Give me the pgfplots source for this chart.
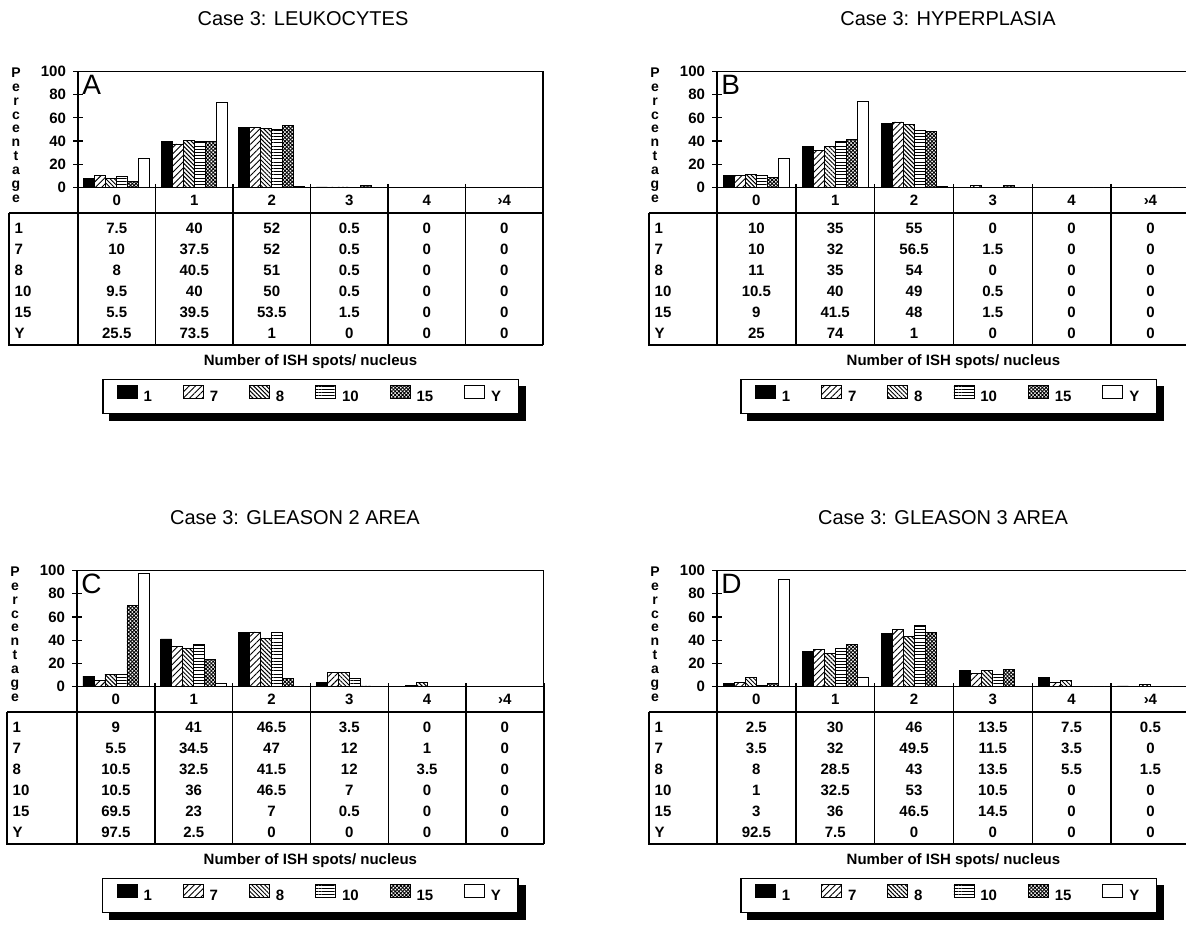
\documentclass[border=0pt]{standalone}
\usepackage{pgfplots}
\pgfplotsset{compat=1.18}
\usepackage{pgfplotstable}
\usepackage{fontspec}
\setmainfont{Liberation Sans}
\usetikzlibrary{patterns,patterns.meta,backgrounds}

\newcommand\tf{\bfseries\fontsize{7.5}{9}\selectfont}

\pgfplotsset{swatch/.style={legend image code/.code={\draw[##1,line width=0.4pt] (0pt,-0.6pt) rectangle (10pt,5.9pt);}}}

\pgfplotstableread{
x s1 s7 s8 s10 s15 sY
0 7.5 10 8 9.5 5.5 25.5
1 40 37.5 40.5 40 39.5 73.5
2 52 52 51 50 53.5 1
3 0.5 0.5 0.5 0.5 1.5 0
4 0 0 0 0 0 0
5 0 0 0 0 0 0
}\dataA
\pgfplotstableread{
x s1 s7 s8 s10 s15 sY
0 10 10 11 10.5 9 25
1 35 32 35 40 41.5 74
2 55 56.5 54 49 48 1
3 0 1.5 0 0.5 1.5 0
4 0 0 0 0 0 0
5 0 0 0 0 0 0
}\dataB
\pgfplotstableread{
x s1 s7 s8 s10 s15 sY
0 9 5.5 10.5 10.5 69.5 97.5
1 41 34.5 32.5 36 23 2.5
2 46.5 47 41.5 46.5 7 0
3 3.5 12 12 7 0.5 0
4 0 1 3.5 0 0 0
5 0 0 0 0 0 0
}\dataC
\pgfplotstableread{
x s1 s7 s8 s10 s15 sY
0 2.5 3.5 8 1 3 92.5
1 30 32 28.5 32.5 36 7.5
2 46 49.5 43 53 46.5 0
3 13.5 11.5 13.5 10.5 14.5 0
4 7.5 3.5 5.5 0 0 0
5 0.5 0 1.5 0 0 0
}\dataD

% #1 axis left px, #2 column width px, #3 vertical offset px, #4 title, #5 title x px,
% #6 letter, #7 table, #8 legend rel x, #9 table left px
\newcommand{\panel}[9]{%
\pgfmathsetmacro{\axL}{#1*0.5}%
\pgfmathsetmacro{\axT}{-(71.5+#3)*0.5}%
\pgfmathsetmacro{\axW}{6*#2*0.5}%
\begin{axis}[
  at={(\axL pt,\axT pt)}, anchor=north west,
  scale only axis, width=\axW pt, height=58pt,
  xmin=-0.5, xmax=5.5, ymin=0, ymax=100,
  ybar=0pt, bar width=5.5pt,
  xtick=\empty,
  ytick={0,20,40,60,80,100}, ytick pos=left, ytick align=center,
  major tick length=5pt,
  every tick/.style={black, line width=0.6pt},
  axis line style={line width=0.6pt},
  /pgf/number format/assume math mode=true,
  yticklabel style={font=\tf},
  clip=false,
  swatch,
  legend columns=6,
  legend style={name=leg#6, at={(#8,-1.8)}, anchor=center, draw=black, line width=0.6pt, fill=white,
    inner xsep=7pt, inner ysep=3pt, font=\tf,
    /tikz/every odd column/.append style={column sep=1.5pt},
    /tikz/every even column/.append style={column sep=14pt},
    nodes={inner sep=1.5pt}},
]
\addplot[draw=black, line width=0.4pt, fill=black] table[x=x,y=s1]{#7};
\addlegendentry{1}
\addplot[draw=black, line width=0.4pt, pattern={Lines[angle=45,distance=2.2pt,line width=0.45pt]}] table[x=x,y=s7]{#7};
\addlegendentry{7}
\addplot[draw=black, line width=0.4pt, pattern={Lines[angle=-45,distance=1.5pt,line width=0.5pt]}] table[x=x,y=s8]{#7};
\addlegendentry{8}
\addplot[draw=black, line width=0.4pt, pattern={Lines[angle=0,distance=1.6pt,line width=0.45pt]}] table[x=x,y=s10]{#7};
\addlegendentry{10}
\addplot[draw=black, line width=0.4pt, pattern={Hatch[angle=45,distance=1.3pt,line width=0.45pt]}] table[x=x,y=s15]{#7};
\addlegendentry{15}
\addplot[draw=black, line width=0.4pt, fill=white] table[x=x,y=sY]{#7};
\addlegendentry{Y}
\node[anchor=north west, inner sep=0pt, xshift=2pt, yshift=-1.5pt, font=\fontsize{14}{14}\selectfont] at (rel axis cs:0,1) {#6};
\end{axis}
\begin{pgfonlayer}{background}
\fill[black] ([shift={(3.5pt,-3.5pt)}]leg#6.south west) rectangle ([shift={(3.5pt,-3.5pt)}]leg#6.north east);
\end{pgfonlayer}
\begin{scope}[x=0.5pt,y=-0.5pt, line width=0.7pt]
  \node[font=\fontsize{10}{12}\selectfont] at (#5,19+#3) {#4};
  \node[anchor=north, inner sep=0pt, align=center, font=\bfseries\fontsize{7}{6.95}\selectfont] at (#1-62,67+#3) {P\\e\\r\\c\\e\\n\\t\\a\\g\\e};
  \foreach \k in {0,...,6} {\draw ({#1+\k*#2},{184+#3}) -- ({#1+\k*#2},{345+#3});}
  \draw (#9,{213+#3}) -- ({#1+6*#2},{213+#3});
  \draw (#9,{213+#3}) -- (#9,{345+#3}) -- ({#1+6*#2},{345+#3});
  \foreach \lab [count=\j from 0] in {0,1,2,3,4,›4} {\node[font=\tf] at ({#1+(\j+0.5)*#2},{200+#3}) {\lab};}
  \foreach \col/\lab [count=\i from 0] in {s1/1,s7/7,s8/8,s10/10,s15/15,sY/Y} {
    \node[font=\tf, anchor=west, inner sep=0pt] at ({#9+5},{228+21*\i+#3}) {\lab};
    \foreach \j in {0,...,5} {
      \pgfplotstablegetelem{\j}{\col}\of#7
      \node[font=\tf, inner sep=0pt] at ({#1+(\j+0.5)*#2},{228+21*\i+#3}) {\pgfplotsretval};
    }
  }
  \node[font=\tf] at ({#1+3*#2},{362+#3}) {Number of ISH spots/ nucleus};
\end{scope}
}

\begin{document}
\begin{tikzpicture}
\path[use as bounding box] (0,0) rectangle (593pt,-465pt);
\panel{78}{77.5}{0}{Case 3: LEUKOCYTES}{303}{A}{\dataA}{0.5}{9}
\panel{717}{78.8}{0}{Case 3: HYPERPLASIA}{948}{B}{\dataB}{0.49}{649}
\panel{77}{77.8}{499}{Case 3: GLEASON 2 AREA}{295}{C}{\dataC}{0.5}{7}
\panel{717}{78.8}{499}{Case 3: GLEASON 3 AREA}{943}{D}{\dataD}{0.49}{649}
\end{tikzpicture}
\end{document}
